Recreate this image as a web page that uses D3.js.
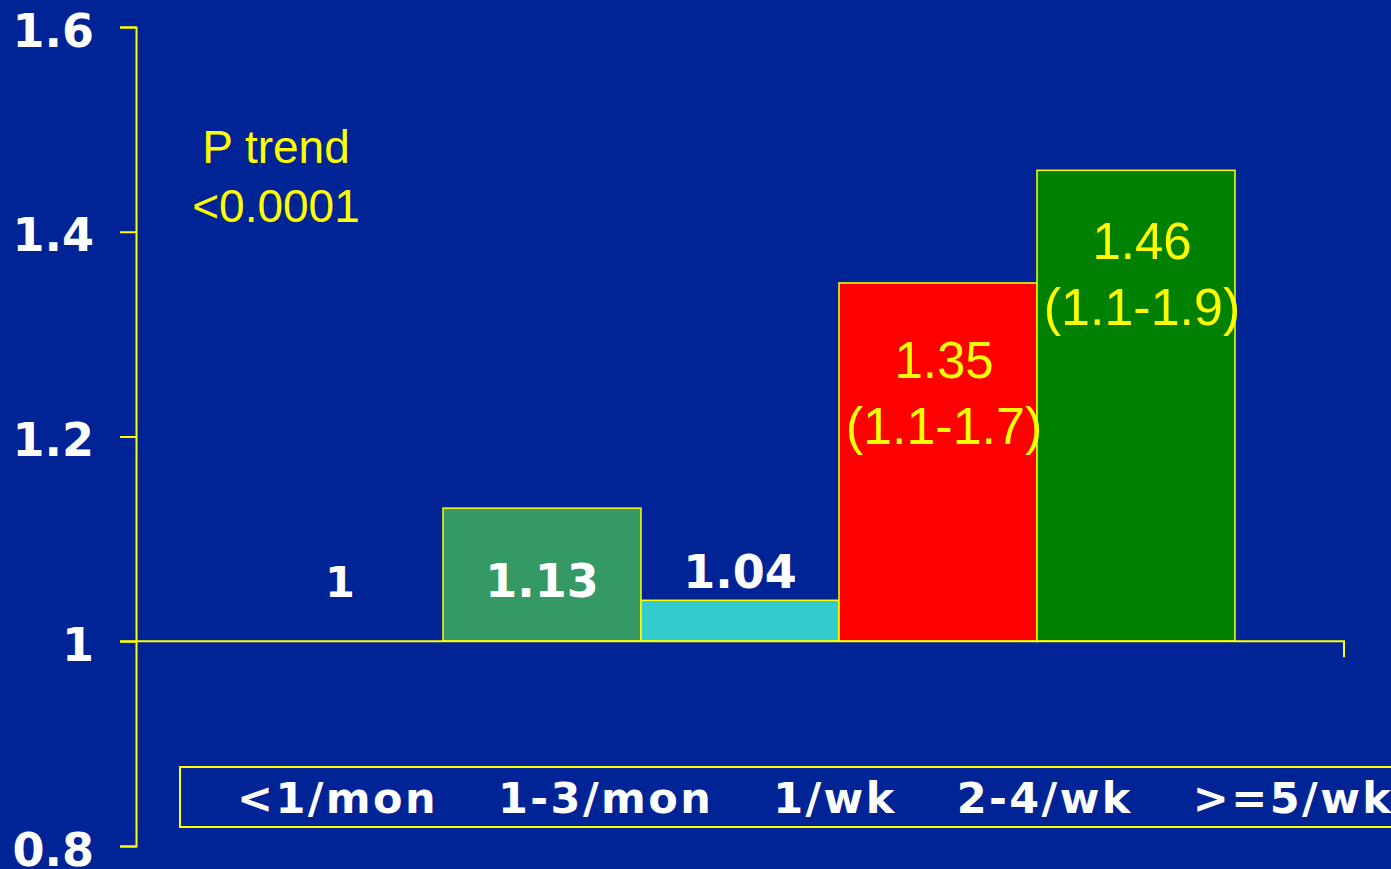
<!DOCTYPE html>
<html>
<head>
<meta charset="utf-8">
<script src="https://cdn.jsdelivr.net/npm/d3@7"></script>
<style>
  html, body { margin: 0; padding: 0; background: #002395; overflow: hidden; }
  svg { display: block; }
</style>
</head>
<body>
<svg id="chart" width="1391" height="869"></svg>
<script>
// Relative risk by frequency category
const categories = ["<1/mon", "1-3/mon", "1/wk", "2-4/wk", ">=5/wk"];
const values = [1, 1.13, 1.04, 1.35, 1.46];
const valueLabels = ["1", "1.13", "1.04", "1.35", "1.46"];
const ciLabels = ["", "", "", "(1.1-1.7)", "(1.1-1.9)"];
const barColors = ["none", "#359966", "#33CCCC", "#FF0000", "#008000"];
const yTicks = [0.8, 1, 1.2, 1.4, 1.6];
const trendLines = ["P trend", "<0.0001"];

const svg = d3.select("#chart");
const W = 1391, H = 869;
const yellow = "#FFFF00";

svg.append("rect").attr("width", W).attr("height", H).attr("fill", "#002395");

const y = d3.scaleLinear().domain([0.8, 1.6]).range([846, 27]);
const x = d3.scaleBand().domain(categories).range([245, 1235]).padding(0);
const axisX = 136;
const base = y(1);

// Bars rise from the reference value 1
const bars = categories.map((c, i) => ({ c, v: values[i], color: barColors[i], label: valueLabels[i], ci: ciLabels[i] }));

svg.selectAll("rect.bar")
  .data(bars.filter(d => d.v !== 1))
  .join("rect")
  .attr("class", "bar")
  .attr("x", d => x(d.c))
  .attr("width", x.bandwidth())
  .attr("y", d => y(d.v))
  .attr("height", d => base - y(d.v))
  .attr("fill", d => d.color)
  .attr("stroke", yellow)
  .attr("stroke-width", 1.5);

// Reference line at 1 with end tick
svg.append("path")
  .attr("d", `M120,${base}H1344V${base + 16}`)
  .attr("fill", "none")
  .attr("stroke", yellow)
  .attr("stroke-width", 2);

// Y axis
const yAxis = d3.axisLeft(y).tickValues(yTicks).tickSize(16).tickSizeOuter(16)
  .tickFormat(d => d3.format("")(d));
const gy = svg.append("g").attr("transform", `translate(${axisX},0)`).call(yAxis);
gy.selectAll("path, line").attr("stroke", yellow).attr("stroke-width", 2);
gy.selectAll("text")
  .attr("x", -42)
  .attr("dy", null)
  .attr("y", 19)
  .attr("fill", "#fff")
  .attr("font-family", "DejaVu Sans, Verdana, sans-serif")
  .attr("font-weight", "bold")
  .attr("font-size", 46);

// White value labels for the small bars
const whiteLab = bars.filter(d => !d.ci);
svg.selectAll("text.val")
  .data(whiteLab)
  .join("text")
  .attr("class", "val")
  .attr("x", d => x(d.c) + x.bandwidth() / 2 - (d.v === 1 ? 4 : 0))
  .attr("y", d => d.v === 1.04 ? y(d.v) - 12 : base - 44)
  .attr("text-anchor", "middle")
  .attr("fill", "#fff")
  .attr("font-family", "DejaVu Sans, Verdana, sans-serif")
  .attr("font-weight", "bold")
  .attr("font-size", d => d.v === 1 ? 43 : 46)
  .text(d => d.label);

// Yellow labels with confidence intervals inside the tall bars
const ciLab = bars.filter(d => d.ci);
const ciG = svg.selectAll("g.ci")
  .data(ciLab)
  .join("g")
  .attr("class", "ci")
  .attr("transform", (d, i) => `translate(${x(d.c) + x.bandwidth() / 2 + 6},${y(d.v) + (i === 0 ? 95 : 89)})`);
ciG.append("text")
  .attr("text-anchor", "middle")
  .attr("fill", yellow)
  .attr("font-family", "Liberation Sans, Arial, sans-serif")
  .attr("font-size", 51)
  .text(d => d.label);
ciG.append("text")
  .attr("text-anchor", "middle")
  .attr("y", 66)
  .attr("fill", yellow)
  .attr("font-family", "Liberation Sans, Arial, sans-serif")
  .attr("font-size", 52)
  .text(d => d.ci);

// P trend note
svg.append("text")
  .attr("text-anchor", "middle")
  .attr("fill", yellow)
  .attr("font-family", "Liberation Sans, Arial, sans-serif")
  .attr("font-size", 46)
  .selectAll("tspan")
  .data(trendLines)
  .join("tspan")
  .attr("x", 276)
  .attr("y", (d, i) => 163 + i * 59)
  .text(d => d);

// Category label strip
svg.append("rect")
  .attr("x", 180).attr("y", 767)
  .attr("width", 1260).attr("height", 60)
  .attr("fill", "none")
  .attr("stroke", yellow)
  .attr("stroke-width", 2);

svg.append("text")
  .attr("x", 237)
  .attr("y", 813)
  .attr("fill", "#fff")
  .attr("font-family", "DejaVu Sans, Verdana, sans-serif")
  .attr("font-weight", "bold")
  .attr("font-size", 43)
  .attr("letter-spacing", 2.4)
  .selectAll("tspan")
  .data(categories)
  .join("tspan")
  .attr("dx", (d, i) => i === 0 ? 0 : 60)
  .text(d => d);
</script>
</body>
</html>
